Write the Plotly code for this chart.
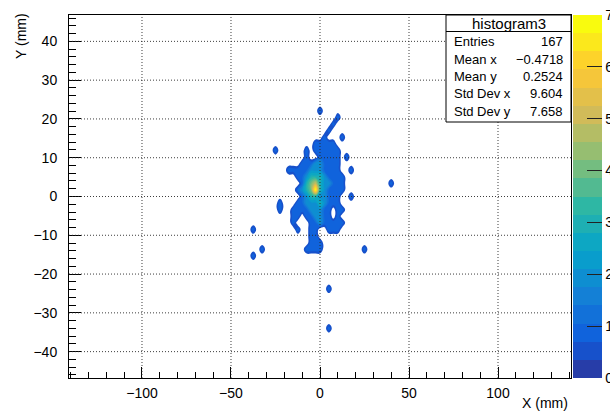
import numpy as np
import plotly.graph_objects as go

# ---------------- data ----------------
BIN_DX = 2.5
BIN_DY = 1.7

# core region: bin centres (mm)
CORE_X = [-20.0, -17.5, -15.0, -12.5, -10.0, -7.5, -5.0, -2.5, 0.0,
          2.5, 5.0, 7.5, 10.0, 12.5, 15.0, 17.5, 20.0]
CORE_Y = [22.1, 20.4, 18.7, 17.0, 15.3, 13.6, 11.9, 10.2, 8.5, 6.8, 5.1,
          3.4, 1.7, 0.0, -1.7, -3.4, -5.1, -6.8, -8.5, -10.2, -11.9, -13.6, -15.3]
# bin contents, one string per CORE_Y row, one digit per CORE_X column
CORE_ROWS = [
    "00000000100000000",
    "00000000000010000",
    "00000000000100000",
    "00000000001000000",
    "00000000010001000",
    "00000001111100000",
    "00000101111110000",
    "00000100111110100",
    "00001112211110000",
    "01111122211110010",
    "00011233321111000",
    "00001345322111000",
    "00012347321111000",
    "00001233221110010",
    "00011222321110000",
    "00111122211011000",
    "00110112211010000",
    "00100011211111000",
    "00010011001110000",
    "00000011000000000",
    "00000011100000000",
    "00000111100000000",
    "00000000000000000",
]
# isolated entries outside the core
LONE_X = [-24.6, 40.4, -21.8, -21.8, -38.7, -32.7, -38.7, 25.9, 6.0, 4.0]
LONE_Y = [12.3, 2.9, -1.8, -3.4, -8.2, -13.8, -15.5, -13.8, -23.0, -34.5]
LONE_N = [1, 1, 1, 1, 1, 1, 1, 1, 1, 1]

X_TICKS = [-100, -50, 0, 50, 100]
Y_TICKS = [-40, -30, -20, -10, 0, 10, 20, 30, 40]
Z_TICKS = [0, 1, 2, 3, 4, 5, 6, 7]

STATS_TITLE = "histogram3"
STATS_LABELS = ["Entries", "Mean x", "Mean y", "Std Dev x", "Std Dev y"]
STATS_VALUES = ["167", "\u22120.4718", "0.2524", "9.604", "7.658"]

# ---------------- grid ----------------
GX = np.round(np.arange(-45.0, 47.5 + 1e-9, BIN_DX), 3)
GY = np.round(np.arange(-22, 15) * BIN_DY, 3)
Z = np.zeros((len(GY), len(GX)))

def ix(v):
    return int(np.argmin(np.abs(GX - v)))

def iy(v):
    return int(np.argmin(np.abs(GY - v)))

for yv, row in zip(CORE_Y, CORE_ROWS):
    for xv, ch in zip(CORE_X, row):
        Z[iy(yv), ix(xv)] += int(ch)
for xv, yv, n in zip(LONE_X, LONE_Y, LONE_N):
    Z[iy(yv), ix(xv)] += n

# ---------------- ROOT kBird palette ----------------
R = [0.2082, 0.0592, 0.0780, 0.0232, 0.1802, 0.5301, 0.8186, 0.9956, 0.9764]
G = [0.1664, 0.3599, 0.5041, 0.6419, 0.7178, 0.7492, 0.7328, 0.7862, 0.9832]
B = [0.5293, 0.8684, 0.8385, 0.7914, 0.6425, 0.4662, 0.3499, 0.1968, 0.0539]
STOPS = np.linspace(0, 1, 9)
NCOL, NLEV = 255, 20

def pal(j):
    t = j / (NCOL - 1)
    r = np.interp(t, STOPS, R); g = np.interp(t, STOPS, G); b = np.interp(t, STOPS, B)
    return "rgb(%d,%d,%d)" % (round(r * 255), round(g * 255), round(b * 255))

LEVEL_COLORS = [pal(int((i + 0.99) * NCOL / NLEV)) for i in range(NLEV)]

bar_scale = []
for i, c in enumerate(LEVEL_COLORS):
    bar_scale.append([round(i / NLEV, 6), c])
    bar_scale.append([round((i + 1) / NLEV, 6), c])

TR = "rgba(255,255,255,0)"
edges = [round(0.05 * k - 0.025, 6) for k in range(NLEV + 1)]
cont_scale = [[0.0, TR], [edges[1], TR]]
for k in range(1, NLEV):
    lo = edges[k]
    hi = min(1.0, edges[k + 1])
    cont_scale.append([lo, LEVEL_COLORS[k]])
    cont_scale.append([hi, LEVEL_COLORS[k]])
cont_scale.append([1.0, LEVEL_COLORS[-1]])

ZMAX = 7.0
step = ZMAX / NLEV

fig = go.Figure()
fig.add_trace(go.Contour(
    x=GX, y=GY, z=Z,
    autocontour=False,
    contours=dict(start=step, end=ZMAX, size=step, coloring="fill", showlines=False),
    line=dict(width=0, smoothing=1.3),
    colorscale=cont_scale, showscale=False, hoverinfo="skip",
))

# ---------------- layout geometry ----------------
W, H = 610, 411
L, Rm, T, Bm = 69, 39, 15, 33
PW, PH = W - L - Rm, H - T - Bm

def pxx(p):
    return (p - L) / PW

def pxy(p):
    return (H - Bm - p) / PH

fig.add_trace(go.Scatter(
    x=[None, None], y=[None, None], mode="markers", hoverinfo="skip", showlegend=False,
    marker=dict(color=[0, ZMAX], cmin=0, cmax=ZMAX, colorscale=bar_scale, showscale=True,
                colorbar=dict(x=pxx(573), xanchor="left", y=0.5, yanchor="middle",
                              len=1, lenmode="fraction", thickness=29, thicknessmode="pixels",
                              outlinewidth=0, xpad=0, ypad=0,
                              ticks="inside", ticklen=15, tickwidth=1, tickcolor="#222",
                              tickvals=Z_TICKS,
                              tickfont=dict(family="Liberation Sans, Arial", size=14, color="black"))),
))

font = dict(family="Liberation Sans, Arial, sans-serif", size=14, color="black")

fig.update_layout(
    width=W, height=H, autosize=False,
    margin=dict(l=L, r=Rm, t=T, b=Bm, pad=0, autoexpand=False),
    paper_bgcolor="white", plot_bgcolor="white",
    font=font, showlegend=False,
    xaxis=dict(range=[-141, 141], tickvals=X_TICKS, showgrid=False, zeroline=False,
               showline=True, mirror=True, linecolor="black", linewidth=1,
               ticks="inside", ticklen=11, tickcolor="black", tickwidth=1,
               minor=dict(dtick=10, tick0=0, ticks="inside", ticklen=6, tickcolor="black", showgrid=False),
               tickfont=font, ticklabelstandoff=2),
    yaxis=dict(range=[-46.8, 46.8], tickvals=Y_TICKS, showgrid=False, zeroline=False,
               showline=True, mirror=True, linecolor="black", linewidth=1,
               ticks="inside", ticklen=12, tickcolor="black", tickwidth=1,
               minor=dict(dtick=2, tick0=0, ticks="inside", ticklen=7, tickcolor="black", showgrid=False),
               tickfont=font, ticklabelstandoff=8),
)

GRID_LINE = dict(color="rgba(40,40,40,0.9)", width=1, dash="1px,2px")
shapes = []
for v in X_TICKS:
    shapes.append(dict(type="line", xref="x", yref="paper", x0=v, x1=v, y0=0, y1=1,
                       line=GRID_LINE, layer="above"))
for v in Y_TICKS:
    shapes.append(dict(type="line", xref="paper", yref="y", x0=0, x1=1, y0=v, y1=v,
                       line=GRID_LINE, layer="above"))
# stats box
shapes.append(dict(type="rect", xref="paper", yref="paper", x0=pxx(446), x1=pxx(571),
                   y0=pxy(122), y1=pxy(15), fillcolor="white",
                   line=dict(color="black", width=1), layer="above"))
shapes.append(dict(type="line", xref="paper", yref="paper", x0=pxx(446), x1=pxx(571),
                   y0=pxy(31.5), y1=pxy(31.5), line=dict(color="black", width=1), layer="above"))
fig.update_layout(shapes=shapes)

ann = []
ann.append(dict(text=STATS_TITLE, xref="paper", yref="paper", x=pxx(508.5), y=pxy(23),
                xanchor="center", yanchor="middle", showarrow=False,
                font=dict(family=font["family"], size=15, color="black")))
row_y = [41.5, 59, 76.5, 94, 111.5]
for lab, val, yy in zip(STATS_LABELS, STATS_VALUES, row_y):
    ann.append(dict(text=lab, xref="paper", yref="paper", x=pxx(451.5), y=pxy(yy),
                    xanchor="left", yanchor="middle", showarrow=False,
                    font=dict(family=font["family"], size=13, color="black")))
    ann.append(dict(text=val, xref="paper", yref="paper", x=pxx(565), y=pxy(yy),
                    xanchor="right", yanchor="middle", showarrow=False,
                    font=dict(family=font["family"], size=13, color="black")))
ann.append(dict(text="X (mm)", xref="paper", yref="paper", x=pxx(570), y=pxy(403),
                xanchor="right", yanchor="middle", showarrow=False, font=font))
ann.append(dict(text="Y (mm)", xref="paper", yref="paper", x=pxx(21), y=pxy(36),
                xanchor="center", yanchor="middle", showarrow=False, textangle=-90, font=font))
fig.update_layout(annotations=ann)

fig.write_html("out.html", config={"displayModeBar": False},
               post_script="document.body.style.margin='0px';document.body.style.overflow='hidden';")
